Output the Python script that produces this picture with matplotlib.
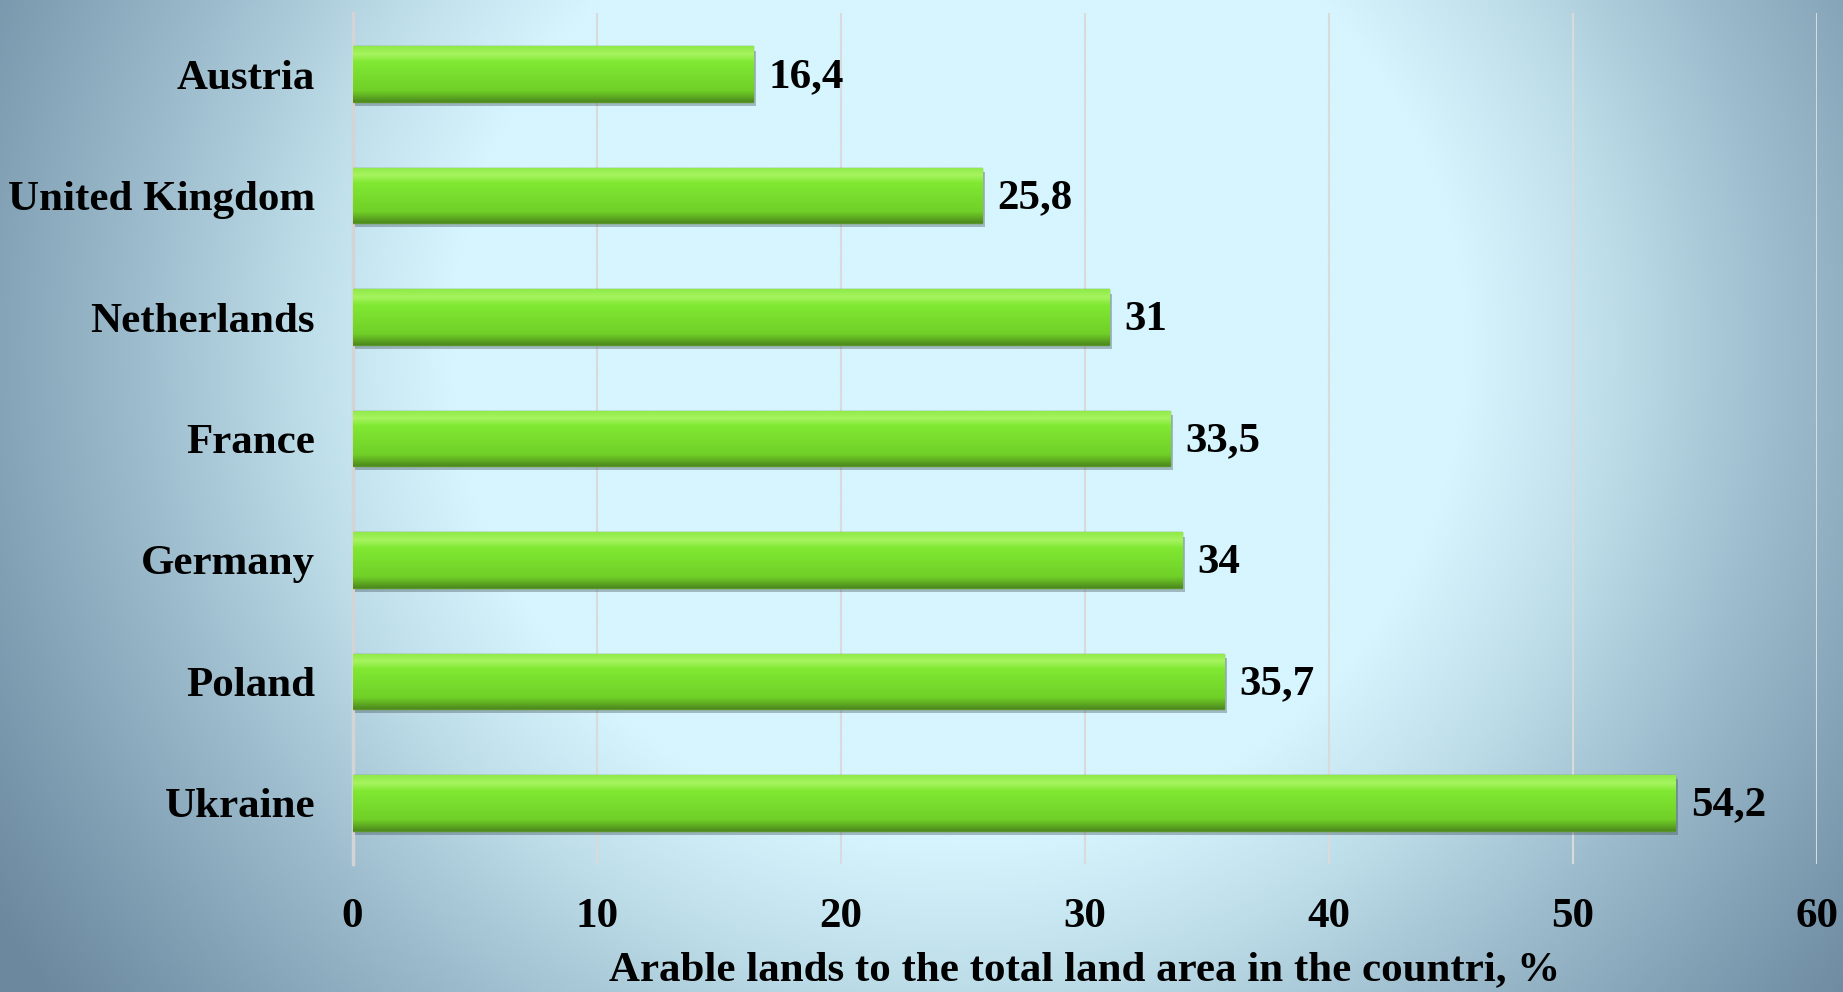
import numpy as np
import matplotlib.pyplot as plt
import matplotlib.patheffects as pe
from matplotlib.colors import LinearSegmentedColormap

countries = ["Ukraine", "Poland", "Germany", "France", "Netherlands",
             "United Kingdom", "Austria"]
values = [54.2, 35.7, 34, 33.5, 31, 25.8, 16.4]
value_labels = ["54,2", "35,7", "34", "33,5", "31", "25,8", "16,4"]
xticks = [0, 10, 20, 30, 40, 50, 60]

plt.rcParams['font.family'] = ['Liberation Serif', 'DejaVu Serif']
plt.rcParams['font.weight'] = 'bold'

fig = plt.figure(figsize=(18.43, 9.92), dpi=100)

# background: wide light-cyan glow fading to steel blue at the edges
bg = fig.add_axes([0, 0, 1, 1], zorder=0)
bg.set_axis_off()
yy, xx = np.mgrid[0:1:400j, 0:1:700j]
r = np.sqrt(((xx - 0.52) / 0.5) ** 2 + ((yy - 0.35) / 0.9) ** 2)
t = np.clip((r - 0.55) / 0.68, 0, 1)
bg_cmap = LinearSegmentedColormap.from_list(
    "bg", [(0.0, "#d6f5fe"), (0.25, "#bcdce8"), (0.5, "#9dbccd"),
           (0.75, "#82a1b5"), (1.0, "#6b889e")])
bg.imshow(t, cmap=bg_cmap, aspect='auto', origin='upper',
          extent=[0, 1, 0, 1], vmin=0, vmax=1)
bg.set_xlim(0, 1)
bg.set_ylim(0, 1)

ax = fig.add_axes([0.1913, 0.1294, 0.7946, 0.8571], zorder=1)
ax.patch.set_alpha(0)

ypos = np.arange(len(countries))
bars = ax.barh(ypos, values, height=0.455, color="#7ae52c",
               edgecolor="#5a962a", linewidth=1.0, zorder=3)

bar_cmap = LinearSegmentedColormap.from_list(
    "bar", [(0.0, "#4e8a1e"), (0.1, "#60ae22"), (0.2, "#70d028"),
            (0.72, "#80e832"), (0.86, "#a6f460"), (1.0, "#90ea48")])
grad = np.linspace(0, 1, 100).reshape(-1, 1)
for b in bars:
    b.set_path_effects([pe.SimplePatchShadow(offset=(2, -3), alpha=0.35,
                                             shadow_rgbFace="#3a4a50"),
                        pe.Normal()])
    im = ax.imshow(grad, cmap=bar_cmap, aspect='auto', origin='lower',
                   extent=[b.get_x(), b.get_x() + b.get_width(),
                           b.get_y(), b.get_y() + b.get_height()],
                   zorder=4)
    im.set_clip_path(b)

for b, lab in zip(bars, value_labels):
    ax.annotate(lab, (b.get_width(), b.get_y() + b.get_height() / 2),
                xytext=(11, -2), textcoords='offset points',
                va='center', ha='left', fontsize=31, fontweight='bold',
                color='black', zorder=5)

ax.set_xlim(0, 60)
ax.set_ylim(-0.5, len(countries) - 0.5)
ax.set_xticks(xticks)
ax.set_xticklabels([str(t) for t in xticks])
ax.set_yticks(ypos)
ax.set_yticklabels(countries)
ax.tick_params(axis='both', length=0, labelsize=31)
ax.tick_params(axis='x', pad=25)
ax.tick_params(axis='y', pad=27)
for lbl in ax.get_xticklabels() + ax.get_yticklabels():
    lbl.set_fontweight('bold')

ax.grid(axis='x', color="#dadada", linewidth=1.5, zorder=1)
ax.set_axisbelow(True)
for s in ['top', 'right', 'bottom']:
    ax.spines[s].set_visible(False)
ax.spines['left'].set_color("#d4d4d4")
ax.spines['left'].set_linewidth(2.5)

ax.set_xlabel("Arable lands to the total land area in the countri, %",
              fontsize=31, fontweight='bold', labelpad=11)

fig.savefig("out.png", dpi=100)
